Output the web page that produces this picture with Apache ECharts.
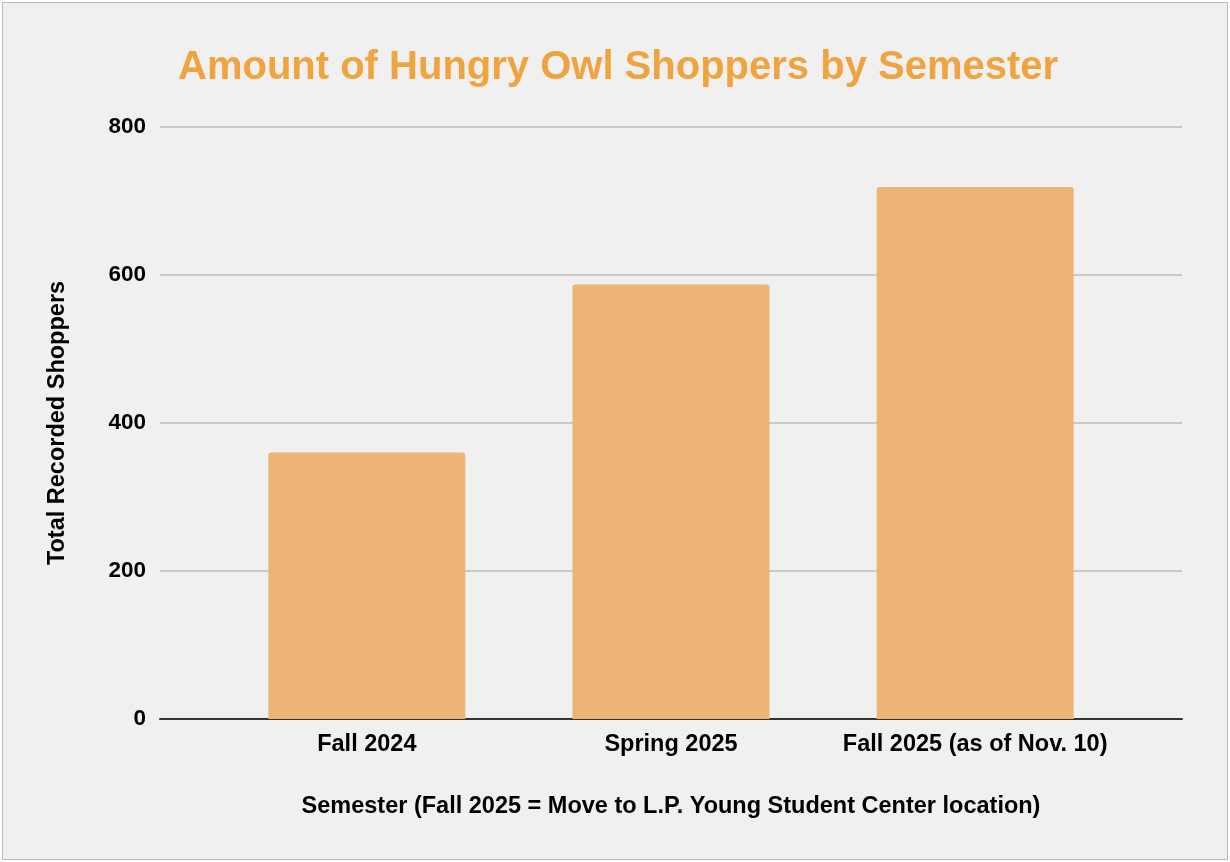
<!DOCTYPE html>
<html><head><meta charset="utf-8">
<script src="https://cdn.jsdelivr.net/npm/echarts@6/dist/echarts.min.js"></script>
<style>html,body{margin:0;background:#fff}#c{position:absolute;left:2px;top:2px;width:1224px;height:856px;border:1px solid #bbb;background:#f0f0f0}</style>
</head><body><div id="c"></div>
<script>
var semesters = ['Fall 2024', 'Spring 2025', 'Fall 2025 (as of Nov. 10)'];
var shoppers = [360, 587, 719];
var yTicks = [0, 200, 400, 600, 800];

var chart = echarts.init(document.getElementById('c'));
chart.setOption({
  backgroundColor: '#f0f0f0',
  title: { text: 'Amount of Hungry Owl Shoppers by Semester', left: 170, top: 40,
    textStyle: { color: '#f0a43f', fontSize: 40, fontWeight: 'bold', fontFamily: 'Liberation Sans' } },
  grid: { left: 157, right: 45, top: 124, bottom: 140 },
  xAxis: {
    type: 'value', min: -0.68, max: 2.68,
    name: 'Semester (Fall 2025 = Move to L.P. Young Student Center location)',
    nameLocation: 'middle', nameGap: 76,
    nameTextStyle: { fontSize: 23.5, fontWeight: 'bold', color: '#000', fontFamily: 'Liberation Sans' },
    axisLine: { lineStyle: { color: '#333', width: 2 } },
    axisTick: { show: false },
    splitLine: { show: false },
    axisLabel: { customValues: [0, 1, 2], formatter: function (v) { return semesters[Math.round(v)]; },
      margin: 14, fontSize: 23.5, fontWeight: 'bold', color: '#000', fontFamily: 'Liberation Sans' }
  },
  yAxis: {
    type: 'value', min: 0, max: 800, interval: 200,
    name: 'Total Recorded Shoppers', nameLocation: 'middle', nameGap: 90,
    nameTextStyle: { fontSize: 23.5, fontWeight: 'bold', color: '#000', fontFamily: 'Liberation Sans' },
    axisLine: { show: false }, axisTick: { show: false },
    splitLine: { lineStyle: { color: '#bdbdbd', width: 1.5 } },
    axisLabel: { margin: 14, fontSize: 22.5, fontWeight: 'bold', color: '#000', fontFamily: 'Liberation Sans',
      formatter: function (v) { return yTicks.indexOf(v) >= 0 ? v : ''; } }
  },
  series: [{
    type: 'bar', barWidth: 197,
    data: shoppers.map(function (v, i) { return [i, v]; }),
    itemStyle: { color: '#edb476', borderRadius: [3, 3, 0, 0] }
  }]
});
</script></body></html>
